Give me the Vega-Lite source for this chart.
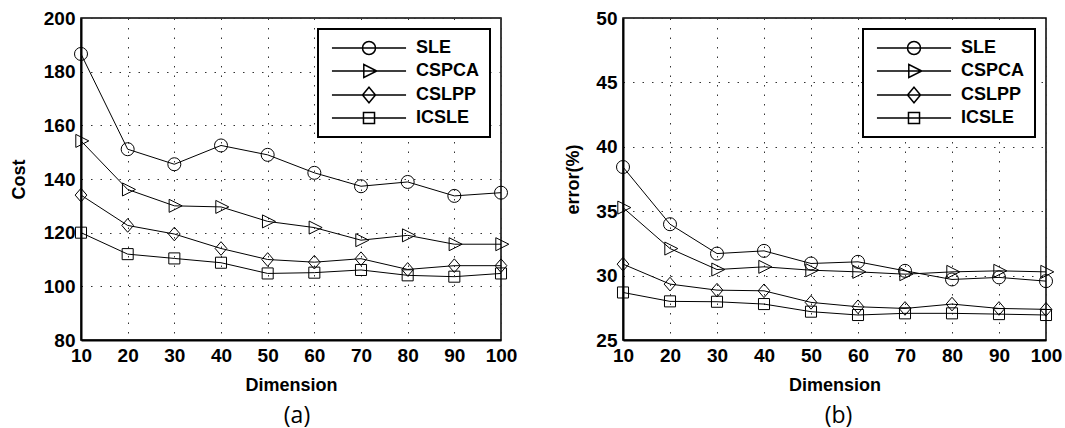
{
  "$schema": "https://vega.github.io/schema/vega-lite/v6.json",
  "autosize": {"type": "pad"},
  "padding": {"left": 9, "top": 8, "right": 0, "bottom": 0},
  "background": "white",
  "bounds": "flush",
  "spacing": 122,
  "datasets": {
    "d": [
      {"dim": 10, "method": "SLE", "cost": 186.6, "error": 38.43},
      {"dim": 20, "method": "SLE", "cost": 151.1, "error": 33.99},
      {"dim": 30, "method": "SLE", "cost": 145.5, "error": 31.71},
      {"dim": 40, "method": "SLE", "cost": 152.5, "error": 31.92},
      {"dim": 50, "method": "SLE", "cost": 149.0, "error": 30.94},
      {"dim": 60, "method": "SLE", "cost": 142.3, "error": 31.07},
      {"dim": 70, "method": "SLE", "cost": 137.3, "error": 30.37},
      {"dim": 80, "method": "SLE", "cost": 138.9, "error": 29.70},
      {"dim": 90, "method": "SLE", "cost": 133.7, "error": 29.86},
      {"dim": 100, "method": "SLE", "cost": 134.9, "error": 29.57},
      {"dim": 10, "method": "CSPCA", "cost": 154.2, "error": 35.28},
      {"dim": 20, "method": "CSPCA", "cost": 136.1, "error": 32.10},
      {"dim": 30, "method": "CSPCA", "cost": 130.0, "error": 30.47},
      {"dim": 40, "method": "CSPCA", "cost": 129.6, "error": 30.68},
      {"dim": 50, "method": "CSPCA", "cost": 124.2, "error": 30.42},
      {"dim": 60, "method": "CSPCA", "cost": 121.9, "error": 30.29},
      {"dim": 70, "method": "CSPCA", "cost": 117.2, "error": 30.11},
      {"dim": 80, "method": "CSPCA", "cost": 119.0, "error": 30.29},
      {"dim": 90, "method": "CSPCA", "cost": 115.7, "error": 30.37},
      {"dim": 100, "method": "CSPCA", "cost": 115.7, "error": 30.29},
      {"dim": 10, "method": "CSLPP", "cost": 134.0, "error": 30.89},
      {"dim": 20, "method": "CSLPP", "cost": 122.7, "error": 29.34},
      {"dim": 30, "method": "CSLPP", "cost": 119.5, "error": 28.87},
      {"dim": 40, "method": "CSLPP", "cost": 114.1, "error": 28.82},
      {"dim": 50, "method": "CSLPP", "cost": 110.0, "error": 27.92},
      {"dim": 60, "method": "CSLPP", "cost": 109.0, "error": 27.58},
      {"dim": 70, "method": "CSLPP", "cost": 110.3, "error": 27.45},
      {"dim": 80, "method": "CSLPP", "cost": 106.3, "error": 27.79},
      {"dim": 90, "method": "CSLPP", "cost": 107.7, "error": 27.45},
      {"dim": 100, "method": "CSLPP", "cost": 107.7, "error": 27.38},
      {"dim": 10, "method": "ICSLE", "cost": 120.0, "error": 28.69},
      {"dim": 20, "method": "ICSLE", "cost": 112.0, "error": 28.00},
      {"dim": 30, "method": "ICSLE", "cost": 110.4, "error": 27.97},
      {"dim": 40, "method": "ICSLE", "cost": 108.8, "error": 27.79},
      {"dim": 50, "method": "ICSLE", "cost": 104.8, "error": 27.20},
      {"dim": 60, "method": "ICSLE", "cost": 105.1, "error": 26.94},
      {"dim": 70, "method": "ICSLE", "cost": 106.1, "error": 27.07},
      {"dim": 80, "method": "ICSLE", "cost": 104.1, "error": 27.07},
      {"dim": 90, "method": "ICSLE", "cost": 103.6, "error": 27.01},
      {"dim": 100, "method": "ICSLE", "cost": 104.8, "error": 26.94}
    ]
  },
  "resolve": {"scale": {"shape": "independent"}, "legend": {"shape": "independent"}},
  "config": {
    "view": {"stroke": "black", "strokeWidth": 1.5},
    "font": "Liberation Sans",
    "axis": {
      "labelFont": "Liberation Sans", "labelFontWeight": "bold", "labelFontSize": 19, "labelColor": "black",
      "titleFont": "Liberation Sans", "titleFontWeight": "bold", "titleFontSize": 18, "titleColor": "black",
      "domainColor": "black", "domainWidth": 2,
      "ticks": false,
      "labelFlush": false, "labelOverlap": false,
      "grid": true, "gridColor": "#333333", "gridDash": [1.5, 8], "gridWidth": 1, "gridOpacity": 1
    },
    "axisX": {"labelPadding": 6, "titlePadding": 11},
    "axisY": {"labelPadding": 6},
    "legend": {
      "orient": "top-right", "offset": 11,
      "title": null,
      "labelFont": "Liberation Sans", "labelFontWeight": "bold", "labelFontSize": 18, "labelColor": "black",
      "strokeColor": "black", "strokeWidth": 2, "fillColor": "white",
      "padding": 10, "rowPadding": 3,
      "symbolSize": 169, "symbolOffset": 32, "labelOffset": 38,
      "symbolOpacity": 1,
      "symbolStrokeColor": "black", "symbolStrokeWidth": 1.5, "symbolFillColor": "transparent"
    },
    "title": {"font": "Open Sans", "fontSize": 23, "fontWeight": "normal", "color": "black", "orient": "bottom", "anchor": "middle"}
  },
  "hconcat": [
    {
      "width": 420, "height": 322,
      "title": {"text": "(a)", "orient": "bottom", "offset": 11, "dx": 6},
      "data": {"name": "d"},
      "resolve": {"scale": {"shape": "independent"}, "legend": {"shape": "independent"}},
      "layer": [
        {
          "mark": {"type": "line", "color": "black", "strokeWidth": 1},
          "encoding": {
            "x": {"field": "dim", "type": "quantitative", "scale": {"domain": [10, 100], "nice": false}, "axis": {"values": [10,20,30,40,50,60,70,80,90,100], "title": "Dimension"}},
            "y": {"field": "cost", "type": "quantitative", "scale": {"domain": [80, 200], "nice": false}, "axis": {"values": [80,100,120,140,160,180,200], "title": "Cost", "titlePadding": 15}},
            "detail": {"field": "method"}
          }
        },
        {
          "mark": {"type": "point", "filled": false, "stroke": "black", "strokeWidth": 1, "size": 169, "opacity": 1},
          "encoding": {
            "x": {"field": "dim", "type": "quantitative"},
            "y": {"field": "cost", "type": "quantitative"},
            "shape": {
              "field": "method", "type": "nominal", "legend": null,
              "scale": {"domain": ["SLE", "CSPCA", "CSLPP", "ICSLE"], "range": ["circle", "M-0.8,-1L1.2,0L-0.8,1Z", "M0,-1.05L0.9,0L0,1.05L-0.9,0Z", "M-0.85,-0.85H0.85V0.85H-0.85Z"]}
            }
          }
        },
        {
          "mark": {"type": "point", "filled": false, "stroke": "black", "strokeWidth": 1.5, "size": 169, "opacity": 0},
          "encoding": {
            "x": {"field": "dim", "type": "quantitative"},
            "y": {"field": "cost", "type": "quantitative"},
            "shape": {
              "field": "method", "type": "nominal",
              "scale": {"domain": ["SLE", "CSPCA", "CSLPP", "ICSLE"], "range": ["M-5.7,0H5.7M1,0A1,1 0 1,1 -1,0A1,1 0 1,1 1,0", "M-5.7,0H5.7M-0.8,-1L1.2,0L-0.8,1Z", "M-5.7,0H5.7M0,-1.2L1,0L0,1.2L-1,0Z", "M-5.7,0H5.7M-0.85,-0.85H0.85V0.85H-0.85Z"]}
            }
          }
        }
      ]
    },
    {
      "width": 423, "height": 322,
      "title": {"text": "(b)", "orient": "bottom", "offset": 11, "dx": 4},
      "data": {"name": "d"},
      "resolve": {"scale": {"shape": "independent"}, "legend": {"shape": "independent"}},
      "layer": [
        {
          "mark": {"type": "line", "color": "black", "strokeWidth": 1},
          "encoding": {
            "x": {"field": "dim", "type": "quantitative", "scale": {"domain": [10, 100], "nice": false}, "axis": {"values": [10,20,30,40,50,60,70,80,90,100], "title": "Dimension"}},
            "y": {"field": "error", "type": "quantitative", "scale": {"domain": [25, 50], "nice": false}, "axis": {"values": [25,30,35,40,45,50], "title": "error(%)", "titlePadding": 13}},
            "detail": {"field": "method"}
          }
        },
        {
          "mark": {"type": "point", "filled": false, "stroke": "black", "strokeWidth": 1, "size": 169, "opacity": 1},
          "encoding": {
            "x": {"field": "dim", "type": "quantitative"},
            "y": {"field": "error", "type": "quantitative"},
            "shape": {
              "field": "method", "type": "nominal", "legend": null,
              "scale": {"domain": ["SLE", "CSPCA", "CSLPP", "ICSLE"], "range": ["circle", "M-0.8,-1L1.2,0L-0.8,1Z", "M0,-1.05L0.9,0L0,1.05L-0.9,0Z", "M-0.85,-0.85H0.85V0.85H-0.85Z"]}
            }
          }
        },
        {
          "mark": {"type": "point", "filled": false, "stroke": "black", "strokeWidth": 1.5, "size": 169, "opacity": 0},
          "encoding": {
            "x": {"field": "dim", "type": "quantitative"},
            "y": {"field": "error", "type": "quantitative"},
            "shape": {
              "field": "method", "type": "nominal",
              "scale": {"domain": ["SLE", "CSPCA", "CSLPP", "ICSLE"], "range": ["M-5.7,0H5.7M1,0A1,1 0 1,1 -1,0A1,1 0 1,1 1,0", "M-5.7,0H5.7M-0.8,-1L1.2,0L-0.8,1Z", "M-5.7,0H5.7M0,-1.2L1,0L0,1.2L-1,0Z", "M-5.7,0H5.7M-0.85,-0.85H0.85V0.85H-0.85Z"]}
            }
          }
        }
      ]
    }
  ]
}
